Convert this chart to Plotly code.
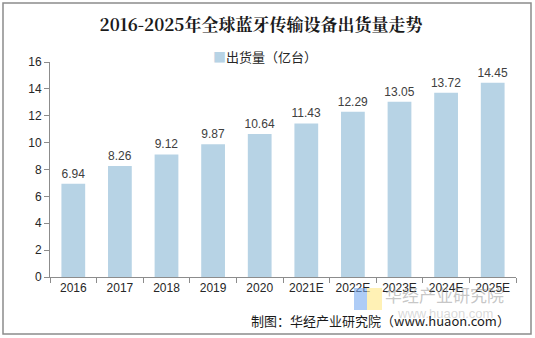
import plotly.graph_objects as go

categories = ["2016", "2017", "2018", "2019", "2020", "2021E", "2022E", "2023E", "2024E", "2025E"]
shipments = [6.94, 8.26, 9.12, 9.87, 10.64, 11.43, 12.29, 13.05, 13.72, 14.45]
labels = ["6.94", "8.26", "9.12", "9.87", "10.64", "11.43", "12.29", "13.05", "13.72", "14.45"]
y_ticks = [0, 2, 4, 6, 8, 10, 12, 14, 16]
series_name = "出货量（亿台）"
bar_color = "#b7d3e5"

W, H = 535, 338
fig = go.Figure()
fig.add_trace(go.Bar(
    x=categories, y=shipments, name=series_name,
    marker=dict(color=bar_color, line=dict(width=0)),
    text=labels, textposition="outside", cliponaxis=False, constraintext="none",
    textfont=dict(family="Liberation Sans, Arial", size=12, color="#404040"),
    showlegend=False,
))

fig.update_layout(
    width=W, height=H,
    margin=dict(l=50, r=19, t=62, b=61),
    paper_bgcolor="white", plot_bgcolor="white",
    bargap=0.49,
    title=dict(text="<b>2016-2025年全球蓝牙传输设备出货量走势</b>", x=261 / 535, xanchor="center",
               y=0.925, yanchor="middle",
               font=dict(family="Noto Serif CJK SC, Noto Sans CJK SC", size=17, color="#1a1a1a")),
    xaxis=dict(type="category", showline=True, linecolor="#8c8c8c", linewidth=1,
               ticks="outside", tickson="boundaries", ticklen=5, tickcolor="#8c8c8c",
               tickfont=dict(family="Liberation Sans, Arial", size=12, color="#262626"),
               showgrid=False),
    yaxis=dict(range=[0, 16], tickvals=y_ticks, showline=True, linecolor="#8c8c8c", linewidth=1,
               ticks="outside", ticklen=5, tickcolor="#8c8c8c", showgrid=False, zeroline=False,
               tickfont=dict(family="Liberation Sans, Arial", size=12, color="#262626")),
    font=dict(family="Noto Sans CJK SC"),
)

# legend (drawn as text so the swatch is small like the reference)
fig.add_annotation(text=f"<span style='color:{bar_color}'>■</span>{series_name}",
                   xref="paper", yref="paper",
                   x=(265 - 50) / 466, y=(277 - 56) / 215, xanchor="center", yanchor="middle",
                   showarrow=False,
                   font=dict(family="Noto Sans CJK SC", size=13, color="#262626"))

# outer frame
fig.add_shape(type="rect", xref="paper", yref="paper",
              x0=(3 - 50) / 466, x1=(531 - 50) / 466,
              y0=(277 - 334) / 215, y1=(277 - 3) / 215,
              line=dict(color="#8c8c8c", width=1.5), fillcolor="rgba(0,0,0,0)", layer="below")

# watermark logo
fig.add_shape(type="rect", xref="paper", yref="paper",
              x0=(354 - 50) / 466, x1=(367 - 50) / 466,
              y0=(277 - 310) / 215, y1=(277 - 288) / 215,
              line=dict(width=0), fillcolor="rgba(120,170,240,0.6)")
fig.add_shape(type="rect", xref="paper", yref="paper",
              x0=(367 - 50) / 466, x1=(382 - 50) / 466,
              y0=(277 - 310) / 215, y1=(277 - 288) / 215,
              line=dict(width=0), fillcolor="rgba(255,235,150,0.7)")
fig.add_annotation(text="华经产业研究院", xref="paper", yref="paper",
                   x=(383 - 50) / 466, y=(277 - 294) / 215, xanchor="left", yanchor="middle",
                   showarrow=False,
                   font=dict(family="Noto Sans CJK SC", size=17, color="rgba(150,150,150,0.55)"))
fig.add_annotation(text="www.huaon.com", xref="paper", yref="paper",
                   x=(395 - 50) / 466, y=(277 - 313) / 215, xanchor="left", yanchor="middle",
                   showarrow=False,
                   font=dict(family="Liberation Sans", size=13, color="rgba(170,170,170,0.45)"))

# source text
fig.add_annotation(text="制图：华经产业研究院（www.huaon.com）", xref="paper", yref="paper",
                   x=(512 - 50) / 466, y=(277 - 320) / 215, xanchor="right", yanchor="middle",
                   showarrow=False,
                   font=dict(family="Noto Sans CJK SC", size=13, color="#1a1a1a"))

fig.write_html("out.html")
